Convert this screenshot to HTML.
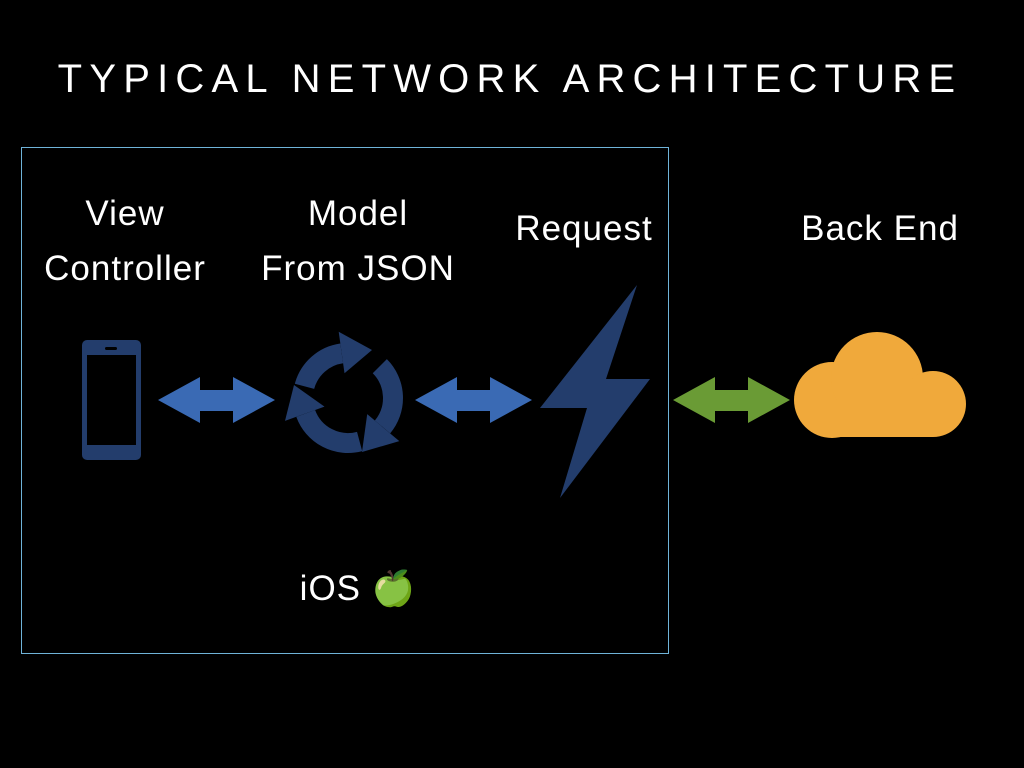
<!DOCTYPE html>
<html><head><style>
body{margin:0;width:1024px;height:768px;background:#000;position:relative;overflow:hidden;font-family:"Liberation Sans",sans-serif;color:#fff}
.t{position:absolute;white-space:nowrap;text-align:center;transform:translateX(-50%);font-size:35px;line-height:55px;letter-spacing:1px}
</style></head><body>
<div class="t" style="left:510px;top:52px;font-size:40px;letter-spacing:7.2px">TYPICAL NETWORK ARCHITECTURE</div>
<div style="position:absolute;left:21px;top:147px;width:646px;height:505px;border:1px solid #6fb3d8"></div>
<div class="t" style="left:125px;top:186px">View<br>Controller</div>
<div class="t" style="left:358px;top:186px">Model<br>From JSON</div>
<div class="t" style="left:584px;top:201px">Request</div>
<div class="t" style="left:880px;top:201px">Back End</div>
<div class="t" style="left:358px;top:561px">iOS <span style="font-family:'Noto Color Emoji','DejaVu Sans',sans-serif;color:#7cc042">🍏</span></div>
<svg width="1024" height="768" style="position:absolute;left:0;top:0">
<rect x="82" y="340" width="59" height="120" rx="5" fill="#233d6c"/>
<rect x="87" y="355" width="49" height="90" fill="#000"/>
<rect x="105" y="347" width="12" height="3" rx="1.5" fill="#000"/>
<g fill="#3a6ab4">
<polygon points="158,400 200,377 200,390 233,390 233,377 275,400 233,423 233,411 200,411 200,423"/>
<polygon points="415,400 457,377 457,390 490,390 490,377 532,400 490,423 490,411 457,411 457,423"/>
</g>
<polygon fill="#6a9b35" points="673,400 715,377 715,390 748,390 748,377 790,400 748,423 748,411 715,411 715,423"/>
<g fill="none" stroke="#233d6c" stroke-width="20">
<path d="M304.5,386.3 A45,45 0 0 1 341.7,353.4"/>
<path d="M379.8,366.2 A45,45 0 0 1 382.5,426.9"/>
<path d="M359.6,441.5 A45,45 0 0 1 305.7,413.4"/>
</g>
<g fill="#233d6c">
<polygon points="344.5,373.2 338.7,331.7 372,350"/>
<polygon points="367.2,414.1 399.3,441.1 362,452"/>
<polygon points="324.5,406.6 285,420.9 294,385"/>
<polygon points="637,285 540,408 587,408 560,498 650,379 606,379"/>
</g>
<g fill="#f0a93b">
<circle cx="832" cy="400" r="38"/>
<circle cx="877" cy="378" r="46"/>
<circle cx="933" cy="404" r="33"/>
<rect x="832" y="400" width="101" height="37"/>
</g>
</svg>
</body></html>
